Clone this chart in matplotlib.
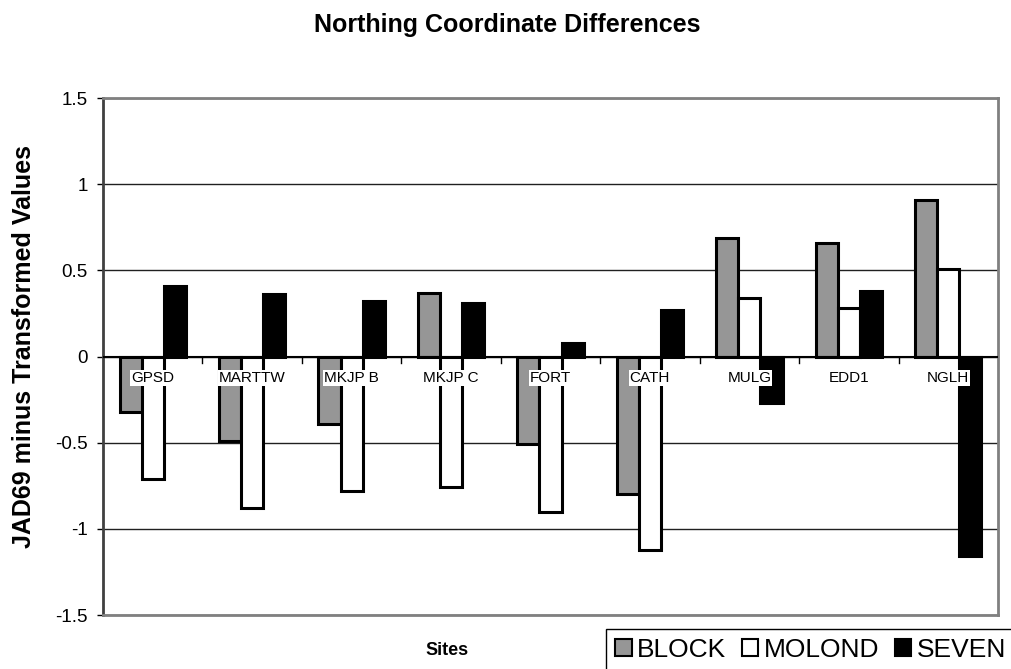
#!/usr/bin/env python3

import matplotlib.pyplot as plt
import numpy as np

plt.rcParams['font.family'] = ['Liberation Sans', 'DejaVu Sans']

sites = ['GPSD', 'MARTTW', 'MKJP B', 'MKJP C', 'FORT', 'CATH', 'MULG', 'EDD1', 'NGLH']
block = [-0.32, -0.49, -0.39, 0.37, -0.51, -0.80, 0.69, 0.66, 0.91]
molond = [-0.71, -0.88, -0.78, -0.76, -0.90, -1.12, 0.34, 0.28, 0.51]
seven = [0.41, 0.36, 0.32, 0.31, 0.08, 0.27, -0.27, 0.38, -1.16]

fig = plt.figure(figsize=(10.11, 6.69), dpi=100)
ax = fig.add_axes([0.1019, 0.0807, 0.8852, 0.7728])

x = np.arange(len(sites))
w = 1 / 4.5
ax.bar(x - w, block, w, color='#969696', edgecolor='black', linewidth=2.2, label='BLOCK', zorder=3)
ax.bar(x, molond, w, color='white', edgecolor='black', linewidth=2.2, label='MOLOND', zorder=3)
ax.bar(x + w, seven, w, color='black', edgecolor='black', linewidth=2.2, label='SEVEN', zorder=3)

ax.set_xlim(-0.5, len(sites) - 0.5)
ax.set_ylim(-1.5, 1.5)
ax.set_yticks([-1.5, -1, -0.5, 0, 0.5, 1, 1.5])
ax.set_yticklabels(['-1.5', '-1', '-0.5', '0', '0.5', '1', '1.5'], fontsize=13.5)
ax.yaxis.grid(True, color='#202020', linewidth=1, zorder=0)
ax.tick_params(axis='y', length=4, width=1, pad=7)

# frame: grey box, darker left axis
for side in ['top', 'right', 'bottom']:
    ax.spines[side].set_color('#808080')
    ax.spines[side].set_linewidth(2)
ax.spines['left'].set_color('#404040')
ax.spines['left'].set_linewidth(2)
ax.set_xticks([])

# category axis sits on zero
ax.axhline(0, color='black', linewidth=1.5, zorder=4)
for b in np.arange(0.5, len(sites) - 0.5):
    ax.plot([b, b], [0, -0.035], color='black', linewidth=1, zorder=4)

for i, s in enumerate(sites):
    ax.text(i, -0.125, s, ha='center', va='center', fontsize=11, zorder=5,
            bbox=dict(facecolor='white', edgecolor='none', pad=0.5))

fig.text(0.502, 0.962, 'Northing Coordinate Differences', ha='center', va='center',
         fontsize=18, fontweight='bold')
fig.text(0.024, 0.482, 'JAD69 minus Transformed Values', ha='center', va='center',
         rotation=90, fontsize=18, fontweight='bold')
fig.text(0.442, 0.028, 'Sites', ha='center', va='center', fontsize=13, fontweight='bold')

leg = fig.legend(loc='upper left', bbox_to_anchor=(606 / 1011, 1 - 629 / 669), ncol=3,
                 fontsize=19, frameon=True, fancybox=False, edgecolor='black',
                 framealpha=1, borderaxespad=0,
                 handlelength=0.62, handleheight=0.62, handletextpad=0.2,
                 columnspacing=0.6, borderpad=0.35)
leg.get_frame().set_linewidth(1)
for h in leg.legend_handles:
    h.set_linewidth(1.5)

fig.savefig('out.png', dpi=100)
